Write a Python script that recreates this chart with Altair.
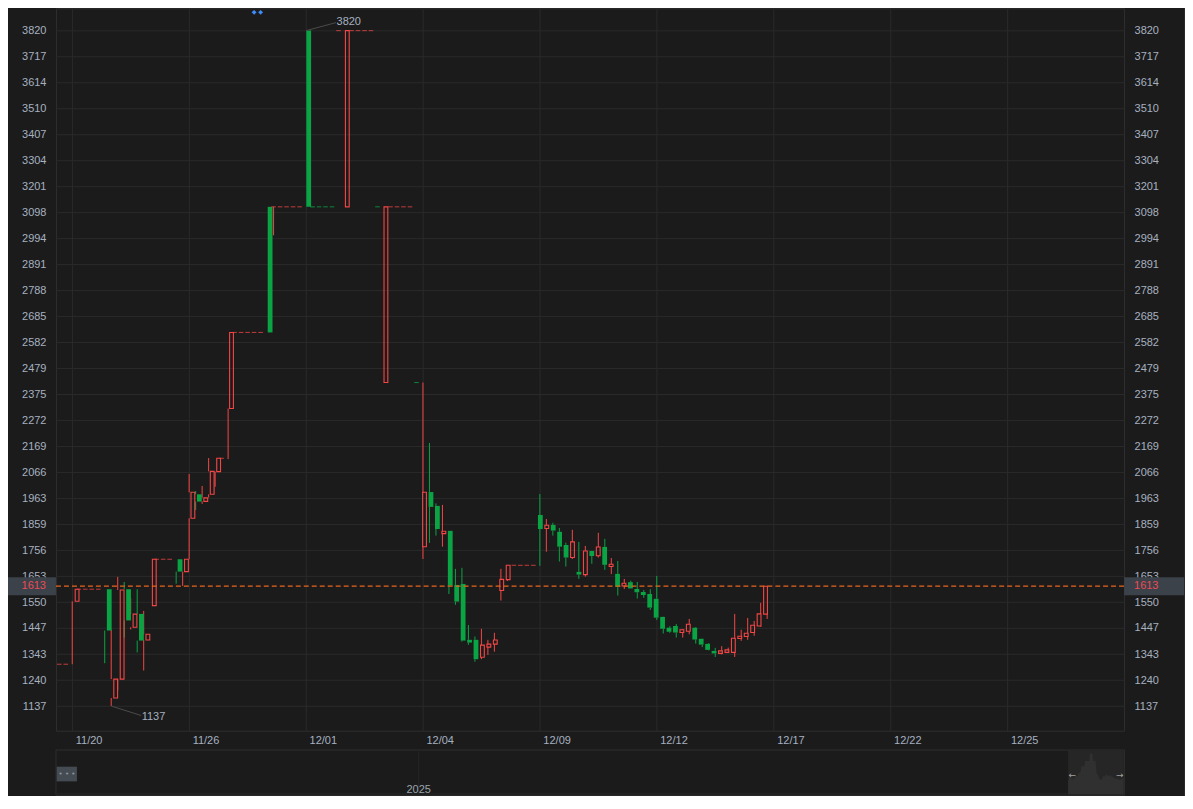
import altair as alt
import pandas as pd

# ---------------- data (bar index, OHLC) ----------------
idx = list(range(-2, 108))

opens = [
    1303, 1303, 1553, 1601, 1601, 1601, 1601, 1601, 1169, 1244,
    1601, 1450, 1503, 1399, 1536, 1720, 1720, 1720, 1720, 1671,
    1883, 1978, 1950, 1978, 2068, 2121, 2319, 2621, 2621, 2621,
    2621, 2621, 3120, 3120, 3120, 3120, 3120, 3120, 3820, 3120,
    3120, 3120, 3120, 3820, 3120, 3820, 3820, 3820, 3820, 3120,
    2422, 3120, 3120, 3120, 3120, 2422, 1770, 1987, 1932, 1822,
    1833, 1618, 1622, 1400, 1400, 1331, 1371, 1383, 1596, 1639,
    1696, 1696, 1696, 1696, 1896, 1842, 1856, 1829, 1777, 1727,
    1670, 1659, 1753, 1734, 1769, 1691, 1662, 1614, 1629, 1602,
    1590, 1582, 1563, 1491, 1448, 1455, 1429, 1434, 1448, 1404,
    1384, 1356, 1346, 1350, 1350, 1405, 1413, 1429, 1455, 1502,
]
highs = [
    1303, 1303, 1601, 1601, 1601, 1601, 1601, 1601, 1440, 1650,
    1630, 1565, 1601, 1515, 1720, 1720, 1720, 1720, 1720, 1720,
    2059, 1991, 2011, 2122, 2121, 2121, 2621, 2621, 2621, 2621,
    2621, 2621, 3120, 3120, 3120, 3120, 3120, 3120, 3820, 3120,
    3120, 3120, 3120, 3820, 3820, 3820, 3820, 3820, 3820, 3120,
    3120, 3120, 3120, 3120, 3120, 2422, 2422, 2182, 1942, 1936,
    1833, 1682, 1686, 1459, 1413, 1444, 1400, 1428, 1682, 1696,
    1696, 1696, 1696, 1696, 1979, 1880, 1865, 1844, 1786, 1837,
    1789, 1773, 1753, 1825, 1801, 1725, 1713, 1642, 1635, 1630,
    1598, 1601, 1654, 1492, 1454, 1463, 1443, 1483, 1451, 1405,
    1387, 1368, 1375, 1369, 1503, 1440, 1487, 1475, 1547, 1613,
]
lows = [
    1303, 1303, 1303, 1601, 1601, 1601, 1601, 1307, 1137, 1199,
    1409, 1441, 1350, 1278, 1536, 1720, 1720, 1720, 1623, 1614,
    1720, 1916, 1940, 1965, 2008, 2121, 2118, 2621, 2621, 2621,
    2621, 2621, 2621, 3007, 3120, 3120, 3120, 3120, 3120, 3120,
    3120, 3120, 3120, 3820, 3120, 3820, 3820, 3820, 3820, 3120,
    2422, 3120, 3120, 3120, 3120, 2422, 1721, 1785, 1814, 1770,
    1582, 1539, 1393, 1380, 1313, 1323, 1340, 1353, 1556, 1634,
    1696, 1696, 1696, 1696, 1694, 1750, 1814, 1711, 1691, 1721,
    1642, 1651, 1702, 1727, 1678, 1661, 1576, 1602, 1604, 1564,
    1567, 1519, 1479, 1425, 1428, 1409, 1409, 1422, 1385, 1371,
    1358, 1332, 1342, 1347, 1332, 1396, 1400, 1416, 1452, 1483,
]
closes = [
    1303, 1303, 1601, 1601, 1601, 1601, 1601, 1437, 1244, 1598,
    1477, 1502, 1397, 1422, 1720, 1720, 1720, 1720, 1671, 1720,
    1986, 1949, 1964, 2069, 2121, 2121, 2621, 2621, 2621, 2621,
    2621, 2621, 2621, 3120, 3120, 3120, 3120, 3120, 3120, 3120,
    3120, 3120, 3120, 3820, 3820, 3820, 3820, 3820, 3820, 3120,
    3120, 3120, 3120, 3120, 3120, 2422, 1986, 1928, 1840, 1831,
    1615, 1552, 1397, 1389, 1323, 1379, 1383, 1399, 1640, 1696,
    1696, 1696, 1696, 1696, 1840, 1855, 1834, 1770, 1727, 1789,
    1659, 1753, 1733, 1769, 1698, 1700, 1611, 1625, 1604, 1589,
    1578, 1528, 1488, 1444, 1432, 1429, 1440, 1462, 1401, 1381,
    1360, 1346, 1356, 1360, 1406, 1414, 1426, 1458, 1503, 1613,
]

x_tick_idx = [0, 18, 36, 54, 72, 90, 108, 126, 144]
x_tick_labels = ['11/20', '11/26', '12/01', '12/04', '12/09', '12/12', '12/17', '12/22', '12/25']
y_ticks = [1137, 1240, 1343, 1447, 1550, 1653, 1756, 1859, 1963, 2066, 2169, 2272, 2375,
           2479, 2582, 2685, 2788, 2891, 2994, 3098, 3201, 3304, 3407, 3510, 3614, 3717, 3820]
marker_idx = [28, 29]
nav_year = ['2025']

# ---------------- styling ----------------
BG = '#1b1b1b'
GRID = '#2a2a2a'
FRAME = '#2f2f2f'
TXT = '#a6b1c0'
RED = '#f44646'
GREEN = '#0aa444'
ORANGE = '#e8651c'
BOX = '#3b4249'
PRICE_RED = '#ee4a57'
LEADER = '#4a4a4a'
FONT = 'Liberation Sans'

# ---------------- derived table ----------------
dirs = []
prev_c, prev_d = None, 'up'
for o, c in zip(opens, closes):
    if c > o:
        d = 'up'
    elif c < o:
        d = 'down'
    elif prev_c is None or c == prev_c:
        d = prev_d
    else:
        d = 'up' if c > prev_c else 'down'
    dirs.append(d)
    prev_c, prev_d = c, d

df = pd.DataFrame(dict(i=idx, open=opens, high=highs, low=lows, close=closes, dir=dirs))
df['top'] = df[['open', 'close']].max(axis=1)
df['bot'] = df[['open', 'close']].min(axis=1)
df['flat'] = df['open'] == df['close']

last = df.iloc[[-1]].copy()
hi = df.loc[[df['high'].idxmax()]].copy()
hi['label'] = hi['high'].astype(int).astype(str)
lo = df.loc[[df['low'].idxmin()]].copy()
lo['label'] = lo['low'].astype(int).astype(str)
marks_df = pd.DataFrame({'i': marker_idx})
dummy = pd.DataFrame({'k': [0]})

# ---------------- scales / axes ----------------
XS = alt.Scale(domain=[-2.508, 161.95], nice=False, zero=False)
YS = alt.Scale(domain=[1038.9, 3908.5], nice=False, zero=False)


def X(f='i', axis=None):
    return alt.X(f'{f}:Q', scale=XS, axis=axis)


def Y(f, axis=None):
    return alt.Y(f'{f}:Q', scale=YS, axis=axis)


xaxis = alt.Axis(values=x_tick_idx,
                 labelExpr=f"{x_tick_labels}[indexof({x_tick_idx}, datum.value)]",
                 grid=True, gridColor=GRID, domain=False, ticks=False,
                 labelAlign='left', labelOffset=3, labelPadding=4, labelBaseline='top',
                 labelFlush=False, labelOverlap=False, title=None)
yaxis_left = alt.Axis(values=y_ticks, format='d', grid=True, gridColor=GRID, domain=False,
                      ticks=False, labelPadding=10, orient='left', title=None,
                      labelOverlap=False, labelFlush=False)
yaxis_right = alt.Axis(values=y_ticks, format='d', grid=False, domain=False, ticks=False,
                       labelPadding=10, orient='right', labelAlign='left', title=None,
                       labelOverlap=False, labelFlush=False)

color = alt.Color('dir:N', scale=alt.Scale(domain=['up', 'down'], range=[RED, GREEN]), legend=None)
c = alt.Chart(df)

axes_left = alt.Chart(last).mark_point(opacity=0).encode(x=X('i', xaxis), y=Y('close', yaxis_left))
axes_right = alt.Chart(last).mark_point(opacity=0).encode(x=X('i'), y=Y('close', yaxis_right))

upper = c.transform_filter('datum.high > datum.top').mark_rule(strokeWidth=1).encode(
    x=X(), y=Y('top'), y2='high:Q', color=color)
lower = c.transform_filter('datum.low < datum.bot').mark_rule(strokeWidth=1).encode(
    x=X(), y=Y('low'), y2='bot:Q', color=color)
hollow = c.transform_filter("datum.dir == 'up' && !datum.flat").mark_bar(
    size=3.8, fill='transparent', stroke=RED, strokeWidth=1.1).encode(x=X(), y=Y('bot'), y2='top:Q')
solid = c.transform_filter("datum.dir == 'down' && !datum.flat").mark_bar(
    size=4.8, color=GREEN).encode(x=X(), y=Y('bot'), y2='top:Q')
flat = c.transform_filter('datum.flat').mark_tick(orient='horizontal', size=4.6, thickness=1.1).encode(
    x=X(), y=Y('close'), color=color)

price_line = alt.Chart(last).mark_rule(color=ORANGE, strokeDash=[5, 3], strokeWidth=1.2).encode(y=Y('close'))
box_l = alt.Chart(last).mark_rect(color=BOX, yOffset=-9, y2Offset=9).encode(
    x=alt.value(-48), x2=alt.value(0), y=Y('close'), y2='close:Q')
box_r = alt.Chart(last).mark_rect(color=BOX, yOffset=-9, y2Offset=9).encode(
    x=alt.value(1069), x2=alt.value(1129), y=Y('close'), y2='close:Q')
txt_l = alt.Chart(last).mark_text(align='right', baseline='middle', color=PRICE_RED, font=FONT,
                                  fontSize=11).encode(x=alt.value(-10), y=Y('close'),
                                                      text=alt.Text('close:Q', format='d'))
txt_r = alt.Chart(last).mark_text(align='left', baseline='middle', color=PRICE_RED, font=FONT,
                                  fontSize=11).encode(x=alt.value(1079), y=Y('close'),
                                                      text=alt.Text('close:Q', format='d'))

hi_lead = alt.Chart(hi).mark_rule(color=LEADER, strokeWidth=1, x2Offset=30, y2Offset=-8).encode(
    x=X(), x2='i:Q', y=Y('high'), y2='high:Q')
hi_txt = alt.Chart(hi).mark_text(align='left', baseline='middle', dx=30.5, dy=-9, color=TXT,
                                 font=FONT, fontSize=11).encode(x=X(), y=Y('high'), text='label:N')
lo_lead = alt.Chart(lo).mark_rule(color=LEADER, strokeWidth=1, x2Offset=30, y2Offset=9.5).encode(
    x=X(), x2='i:Q', y=Y('low'), y2='low:Q')
lo_txt = alt.Chart(lo).mark_text(align='left', baseline='middle', dx=30.5, dy=10.5, color=TXT,
                                 font=FONT, fontSize=11).encode(x=X(), y=Y('low'), text='label:N')

diamonds = alt.Chart(marks_df).mark_point(shape='diamond', filled=True, size=24, color='#3d8bf7',
                                          opacity=1).encode(x=X(), y=alt.value(4))

# ---------------- navigator ----------------
d = alt.Chart(dummy)
nav_frame = d.mark_rect(fill=BG, stroke=FRAME, strokeWidth=1).encode(
    x=alt.value(0), x2=alt.value(1069.3), y=alt.value(742.3), y2=alt.value(787.5))
nav_strip = d.mark_rect(fill='#212121').encode(
    x=alt.value(0.5), x2=alt.value(1013), y=alt.value(785), y2=alt.value(787))
nav_win = d.mark_rect(fill='#262626').encode(
    x=alt.value(1013), x2=alt.value(1068.8), y=alt.value(742.8), y2=alt.value(787))
nav_grid = d.mark_rule(color='#242424').encode(
    x=alt.value(363), y=alt.value(743), y2=alt.value(787))
nav_btn = d.mark_rect(fill='#454b52').encode(
    x=alt.value(0.7), x2=alt.value(21), y=alt.value(759), y2=alt.value(773.7))
nav_dots = d.mark_text(text='• • •', color='#8e959d', fontSize=7, font='DejaVu Sans',
                       baseline='middle', align='center').encode(x=alt.value(11), y=alt.value(766.5))
year_df = pd.DataFrame({'y': nav_year})
nav_year_txt = alt.Chart(year_df).mark_text(color='#9aa3ad', font=FONT, fontSize=11,
                                            baseline='middle', align='center').encode(
    x=alt.value(363), y=alt.value(782), text='y:N')
arr_l = d.mark_text(text='←', color='#a0a0a0', fontSize=9, font='DejaVu Sans',
                    baseline='middle', align='left').encode(x=alt.value(1013.5), y=alt.value(767))
arr_r = d.mark_text(text='→', color='#a0a0a0', fontSize=9, font='DejaVu Sans',
                    baseline='middle', align='right').encode(x=alt.value(1068.5), y=alt.value(767))
nav_area = c.mark_area(color='#303030').encode(
    x=alt.X('i:Q', scale=alt.Scale(domain=[-2, 107], range=[1013, 1068.5], nice=False, zero=False),
            axis=None),
    y=alt.Y('close:Q', scale=alt.Scale(domain=[0, 3900], range=[786.5, 745], nice=False, zero=False),
            axis=None),
    y2=alt.value(786.5))
right_edge = d.mark_rule(color='#2a2a2a').encode(x=alt.value(1129.5), y=alt.value(-8), y2=alt.value(790))

layers = [axes_left, axes_right, nav_frame, nav_strip, nav_win, nav_grid, nav_area, nav_btn, nav_dots,
          nav_year_txt, arr_l, arr_r, right_edge,
          upper, lower, hollow, solid, flat, price_line, box_l, box_r, txt_l, txt_r,
          hi_lead, hi_txt, lo_lead, lo_txt, diamonds]

chart = alt.layer(*layers).resolve_scale(
    x='independent', y='independent', color='independent'
).properties(
    width=1069, height=723, autosize='none',
    padding={'left': 48, 'right': 61, 'top': 0, 'bottom': 65},
    background=BG,
).configure_view(
    stroke=FRAME, strokeWidth=1
).configure_axis(
    labelColor=TXT, labelFont=FONT, labelFontSize=11, gridWidth=1
)

chart.save('out.html', embed_options={'renderer': 'svg', 'actions': False})
